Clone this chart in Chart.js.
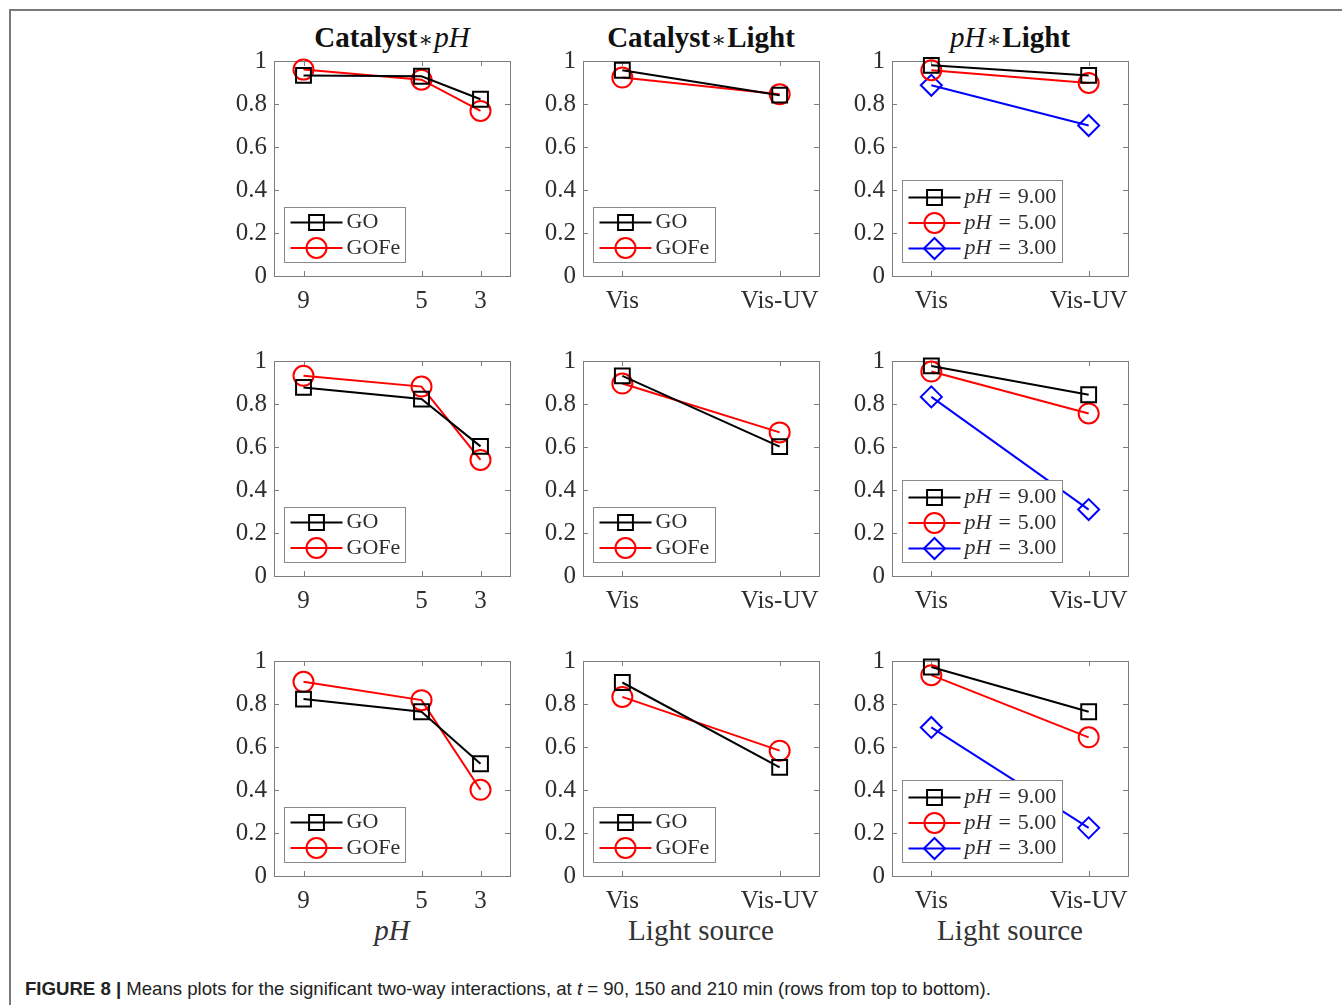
<!DOCTYPE html>
<html>
<head>
<meta charset="utf-8">
<script src="https://cdn.jsdelivr.net/npm/chart.js@4.4.0/dist/chart.umd.min.js"></script>
<style>
    body { margin: 0; background: #fff; width: 1342px; height: 1005px; position: relative; overflow: hidden; font-family: "Liberation Serif", serif; color: #262626; }
    .frame-top { position: absolute; left: 9px; top: 9px; width: 1340px; border-top: 2px solid #7a7a7a; }
    .frame-left { position: absolute; left: 9px; top: 9px; height: 1000px; border-left: 2px solid #7a7a7a; }
    .panel { position: absolute; }
    .title { position: absolute; width: 300px; text-align: center; font-size: 29px; line-height: 32px; color: #111; }
    .title b { font-weight: bold; }
    .title i { font-style: italic; }
    .title .op { font-family: "DejaVu Serif", serif; font-weight: normal; font-size: 22px; padding: 0 1px; }
    .xlabel { position: absolute; width: 300px; text-align: center; font-size: 29px; line-height: 32px; color: #333; }
    .caption { position: absolute; left: 25px; top: 978px; font-family: "Liberation Sans", Arial, sans-serif; font-size: 18.6px; color: #222; white-space: nowrap; }
</style>
</head>
<body>
<div class="frame-top"></div>
<div class="frame-left"></div>

<div class="title" style="left:242px; top:21px;"><b>Catalyst</b><span class="op">∗</span><i>pH</i></div>
<div class="title" style="left:551px; top:21px;"><b>Catalyst</b><span class="op">∗</span><b>Light</b></div>
<div class="title" style="left:860px; top:21px;"><i>pH</i><span class="op">∗</span><b>Light</b></div>

<div class="xlabel" style="left:242px; top:914px;"><i>pH</i></div>
<div class="xlabel" style="left:551px; top:914px;">Light source</div>
<div class="xlabel" style="left:860px; top:914px;">Light source</div>

<div class="caption"><b>FIGURE 8 |</b> Means plots for the significant two-way interactions, at <i>t</i> = 90, 150 and 210 min (rows from top to bottom).</div>

<script>
// x levels
const pHLevels = [9, 5, 3];
const lightLevels = [1, 2];
const lightLabels = ['Vis', 'Vis-UV'];
const yTicks = [0, 0.2, 0.4, 0.6, 0.8, 1];

// one row per time: t = 90, 150, 210 min
const goByPH = [[0.933, 0.929, 0.822], [0.877, 0.823, 0.603], [0.823, 0.764, 0.522]];
const gofeByPH = [[0.960, 0.913, 0.768], [0.931, 0.881, 0.540], [0.903, 0.818, 0.401]];

const goByLight = [[0.957, 0.841], [0.931, 0.602], [0.900, 0.505]];
const gofeByLight = [[0.923, 0.845], [0.895, 0.668], [0.833, 0.583]];

const pH9ByLight = [[0.980, 0.933], [0.977, 0.843], [0.972, 0.764]];
const pH5ByLight = [[0.957, 0.898], [0.951, 0.756], [0.934, 0.645]];
const pH3ByLight = [[0.887, 0.700], [0.833, 0.309], [0.691, 0.224]];

const plotLefts = [274, 583, 892];
const plotTops = [61, 361, 661];
const plotW = 236, plotH = 215;
const PAD_L = 60, PAD_T = 26, PAD_R = 15, PAD_B = 40;

const TXT = '#2e2e2e';
const AXIS = '#7d7d7d';
const FONT = '"Liberation Serif"';

const styles = {
    GO:   { color: '#000000', pointStyle: 'rect', radius: 10.5 },
    GOFe: { color: '#ff0000', pointStyle: 'circle', radius: 10 },
    pH9:  { color: '#000000', pointStyle: 'rect', radius: 10.5 },
    pH5:  { color: '#ff0000', pointStyle: 'circle', radius: 10 },
    pH3:  { color: '#0000ff', pointStyle: 'rectRot', radius: 10.5 }
};

// inner ticks + full box, MATLAB style
const boxTicks = {
    id: 'boxTicks',
    beforeDatasetsDraw(chart) {
        const { ctx, chartArea: a, scales } = chart;
        ctx.save();
        ctx.strokeStyle = AXIS;
        ctx.lineWidth = 1;
        ctx.beginPath();
        scales.y.ticks.forEach(t => {
            const y = Math.round(scales.y.getPixelForValue(t.value)) + 0.5;
            ctx.moveTo(a.left, y); ctx.lineTo(a.left + 5, y);
            ctx.moveTo(a.right, y); ctx.lineTo(a.right - 5, y);
        });
        scales.x.ticks.forEach(t => {
            const x = Math.round(scales.x.getPixelForValue(t.value)) + 0.5;
            ctx.moveTo(x, a.bottom); ctx.lineTo(x, a.bottom - 5);
            ctx.moveTo(x, a.top); ctx.lineTo(x, a.top + 5);
        });
        ctx.stroke();
        ctx.strokeRect(Math.round(a.left) + 0.5, Math.round(a.top) + 0.5, Math.round(a.right - a.left), Math.round(a.bottom - a.top));
        ctx.restore();
    }
};

// legend box in the lower left corner of the axes
const boxLegend = {
    id: 'boxLegend',
    afterDatasetsDraw(chart, args, opts) {
        const { ctx, chartArea: a } = chart;
        const items = chart.data.datasets;
        const rowH = 25.5;
        const w = opts.width;
        const h = items.length === 2 ? 55 : 82;
        const x0 = Math.round(a.left) + 10.5;
        const y0 = Math.round(a.bottom) - 14 - h + 0.5;
        ctx.save();
        ctx.fillStyle = '#fff';
        ctx.fillRect(x0, y0, w, h);
        ctx.strokeStyle = '#8a8a8a';
        ctx.lineWidth = 1;
        ctx.strokeRect(x0, y0, w, h);
        const firstY = items.length === 2 ? y0 + 15 : y0 + 17;
        items.forEach((ds, i) => {
            const cy = firstY + i * rowH;
            ctx.strokeStyle = ds.borderColor;
            ctx.lineWidth = 2;
            ctx.beginPath();
            ctx.moveTo(x0 + 6, cy); ctx.lineTo(x0 + 58, cy);
            ctx.stroke();
            ctx.fillStyle = 'rgba(0,0,0,0)';
            Chart.helpers.drawPoint(ctx, { pointStyle: ds.pointStyle, radius: ds.pointRadius, borderWidth: 2, rotation: 0 }, x0 + 32, cy);
            ctx.fillStyle = TXT;
            ctx.textBaseline = 'middle';
            let tx = x0 + 62;
            if (ds.label.startsWith('pH')) {
                ctx.font = 'italic 22px ' + FONT;
                ctx.fillText('pH', tx, cy);
                tx += ctx.measureText('pH').width + 7;
                ctx.font = '22px ' + FONT;
                const parts = ds.label.slice(2).trim().split(' ');
                ctx.fillText(parts[0], tx, cy);
                tx += ctx.measureText(parts[0]).width + 7;
                ctx.fillText(parts[1], tx, cy);
            } else {
                ctx.font = '22px ' + FONT;
                ctx.fillText(ds.label, tx, cy);
            }
        });
        ctx.restore();
    }
};

function makeDataset(label, key, xs, ys) {
    const s = styles[key];
    return {
        label: label,
        data: xs.map((x, i) => ({ x: x, y: ys[i] })),
        borderColor: s.color,
        backgroundColor: s.color,
        borderWidth: 2,
        pointStyle: s.pointStyle,
        pointRadius: s.radius,
        pointBorderWidth: 2,
        pointBackgroundColor: 'rgba(0,0,0,0)',
        pointBorderColor: s.color,
        tension: 0,
        clip: false
    };
}

function makePanel(row, col, datasets, xKind, legendWidth) {
    const wrap = document.createElement('div');
    wrap.className = 'panel';
    const W = plotW + PAD_L + PAD_R, H = plotH + PAD_T + PAD_B;
    wrap.style.left = (plotLefts[col] - PAD_L) + 'px';
    wrap.style.top = (plotTops[row] - PAD_T) + 'px';
    wrap.style.width = W + 'px';
    wrap.style.height = H + 'px';
    const canvas = document.createElement('canvas');
    canvas.width = W; canvas.height = H;
    wrap.appendChild(canvas);
    document.body.appendChild(wrap);

    const isPH = xKind === 'pH';
    const xLevels = isPH ? pHLevels : lightLevels;

    new Chart(canvas.getContext('2d'), {
        type: 'line',
        data: { datasets: datasets },
        options: {
            responsive: false,
            animation: false,
            devicePixelRatio: 1,
            layout: { padding: { left: PAD_L - 50, top: PAD_T, right: PAD_R, bottom: 0 } },
            plugins: {
                legend: { display: false },
                tooltip: { enabled: false },
                boxLegend: { width: legendWidth }
            },
            scales: {
                x: {
                    type: 'linear',
                    min: isPH ? 2 : 0.75,
                    max: isPH ? 10 : 2.25,
                    reverse: isPH,
                    grid: { display: false, drawTicks: false },
                    border: { display: false },
                    afterBuildTicks: s => { s.ticks = xLevels.map(v => ({ value: v })); },
                    afterFit: s => { s.height = PAD_B; },
                    ticks: {
                        autoSkip: false,
                        maxRotation: 0,
                        padding: 10,
                        color: TXT,
                        font: { family: FONT, size: 25 },
                        callback: v => isPH ? String(v) : lightLabels[lightLevels.indexOf(v)]
                    }
                },
                y: {
                    min: 0,
                    max: 1,
                    grid: { display: false, drawTicks: false },
                    border: { display: false },
                    afterBuildTicks: s => { s.ticks = yTicks.map(v => ({ value: v })); },
                    afterFit: s => { s.width = 50; },
                    ticks: {
                        padding: 7,
                        color: TXT,
                        font: { family: FONT, size: 25 },
                        callback: v => String(v)
                    }
                }
            }
        },
        plugins: [boxTicks, boxLegend]
    });
}

for (let r = 0; r < 3; r++) {
    makePanel(r, 0, [
        makeDataset('GO', 'GO', pHLevels, goByPH[r]),
        makeDataset('GOFe', 'GOFe', pHLevels, gofeByPH[r])
    ], 'pH', 121);
    makePanel(r, 1, [
        makeDataset('GO', 'GO', lightLevels, goByLight[r]),
        makeDataset('GOFe', 'GOFe', lightLevels, gofeByLight[r])
    ], 'light', 122);
    makePanel(r, 2, [
        makeDataset('pH = 9.00', 'pH9', lightLevels, pH9ByLight[r]),
        makeDataset('pH = 5.00', 'pH5', lightLevels, pH5ByLight[r]),
        makeDataset('pH = 3.00', 'pH3', lightLevels, pH3ByLight[r])
    ], 'light', 160);
}
</script>
</body>
</html>
